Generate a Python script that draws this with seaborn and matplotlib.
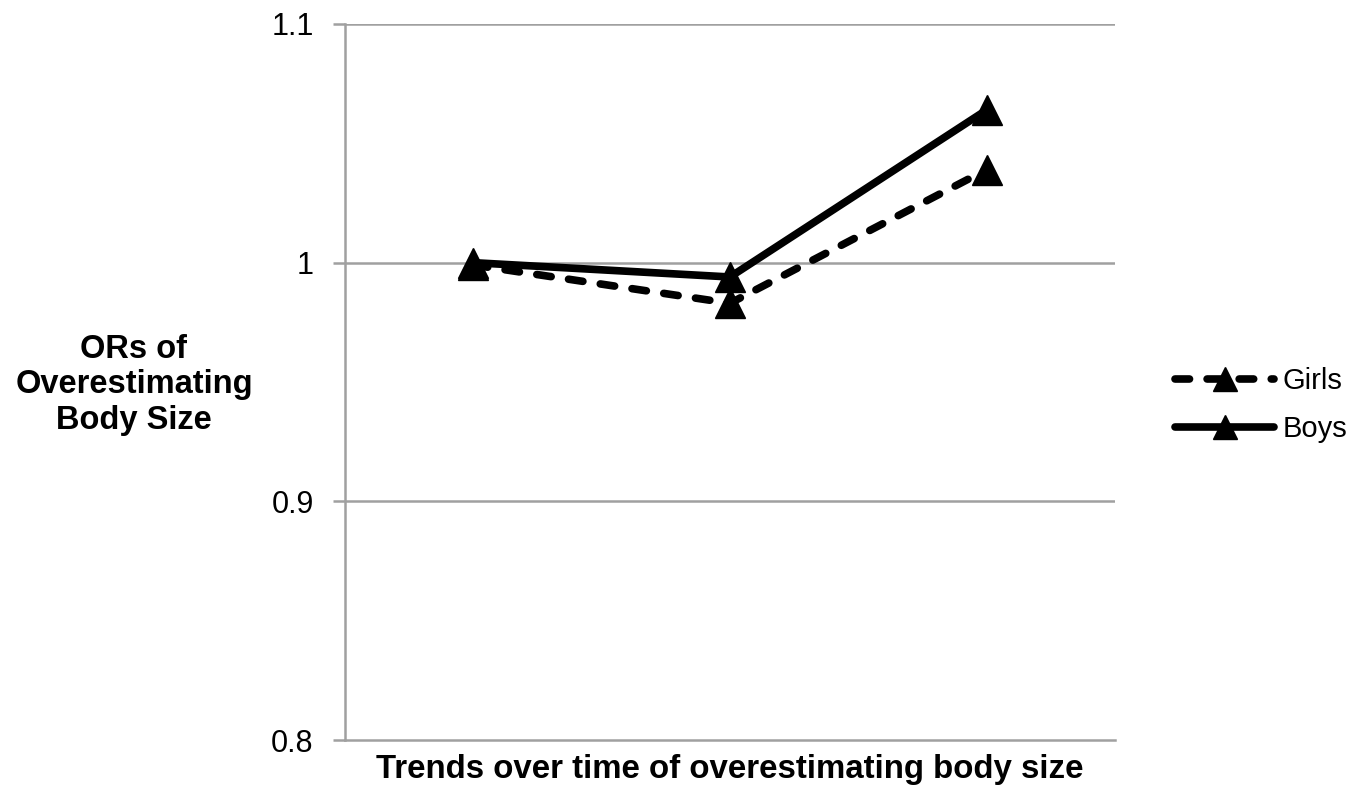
import matplotlib
matplotlib.use("Agg")
import matplotlib.pyplot as plt
import seaborn as sns
import pandas as pd

# Odds ratios of overestimating body size over three survey waves
periods = ["Wave 1", "Wave 2", "Wave 3"]
girls = [0.999, 0.983, 1.039]
boys = [1.000, 0.994, 1.064]
y_ticks = [0.8, 0.9, 1.0, 1.1]
y_tick_labels = ["0.8", "0.9", "1", "1.1"]

df = pd.DataFrame({
    "period": list(range(len(periods))) * 2,
    "odds": girls + boys,
    "sex": ["Girls"] * len(girls) + ["Boys"] * len(boys),
})

sns.set_theme(style="white")
plt.rcParams["font.family"] = ["Liberation Sans", "DejaVu Sans"]
plt.rcParams["text.color"] = "black"
plt.rcParams["axes.labelcolor"] = "black"
plt.rcParams["ytick.labelcolor"] = "black"

fig = plt.figure(figsize=(13.72, 7.85), dpi=100)
ax = fig.add_axes([345 / 1372, 1 - 740 / 785, (1115 - 345) / 1372, (740 - 24) / 785])

grid_col = "#a0a0a0"
for v in y_ticks[1:]:
    ax.axhline(v, color=grid_col, lw=1.8, zorder=0)

sns.lineplot(
    data=df, x="period", y="odds", hue="sex", style="sex",
    hue_order=["Girls", "Boys"], style_order=["Girls", "Boys"],
    palette={"Girls": "black", "Boys": "black"},
    markers={"Girls": "^", "Boys": "^"},
    dashes={"Girls": (1.9, 2.3), "Boys": ""},
    linewidth=5.5, markersize=21, markeredgewidth=1.0,
    markeredgecolor="black",
    dash_capstyle="round", ax=ax, legend=True,
)

ax.set_xlim(-0.5, 2.5)
ax.set_ylim(0.8, 1.1)
ax.set_yticks(y_ticks)
ax.set_yticklabels(y_tick_labels, fontsize=22)
ax.set_xticks([])
ax.tick_params(axis="y", left=True, length=8.5, width=1.8, color=grid_col, pad=14)
for side in ["top", "right"]:
    ax.spines[side].set_visible(False)
for side in ["left", "bottom"]:
    ax.spines[side].set_color(grid_col)
    ax.spines[side].set_linewidth(1.8)

ax.set_xlabel("Trends over time of overestimating body size",
              fontsize=23.8, fontweight="bold", labelpad=10)
ax.set_ylabel("")
fig.text(134 / 1372, 1 - 385 / 785, "ORs of\nOverestimating\nBody Size",
         ha="center", va="center", fontsize=23.5, fontweight="bold",
         linespacing=1.2)

handles, labels = ax.get_legend_handles_labels()
for h in handles:
    h.set_markeredgecolor("black")
fig.legend(handles, labels, loc="center left",
           bbox_to_anchor=(1175 / 1372, 1 - 405 / 785),
           frameon=False, fontsize=21, handlelength=3.4, labelspacing=0.7,
           handletextpad=0.28, markerscale=0.8, borderpad=0, borderaxespad=0)
ax.get_legend().remove()

fig.savefig("out.png", dpi=100)
